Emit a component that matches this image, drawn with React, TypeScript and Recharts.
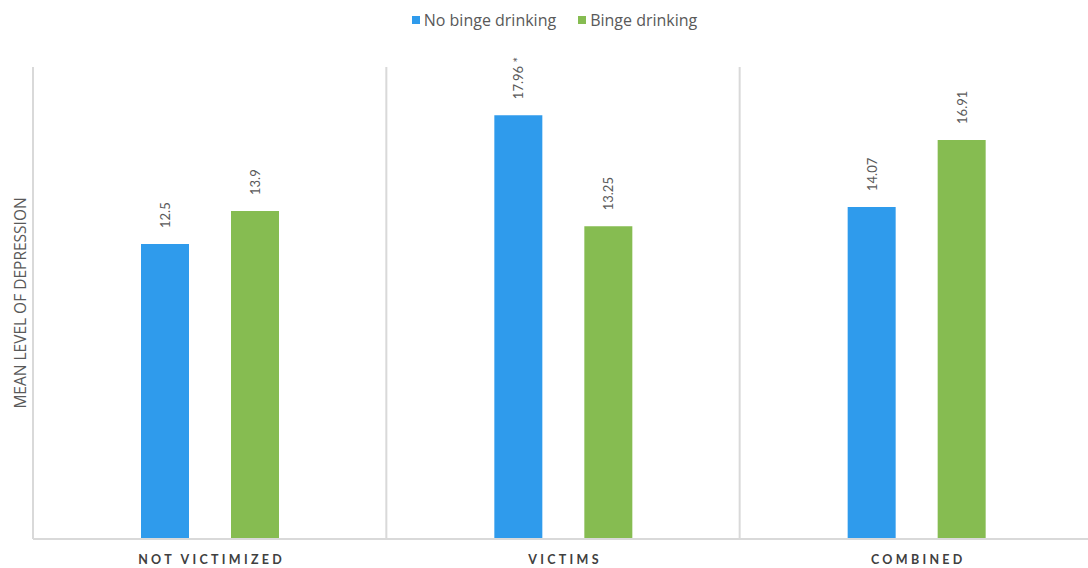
import React from 'react';
import { BarChart, Bar, XAxis, YAxis, CartesianGrid, Legend, LabelList } from 'recharts';

const categories = ['NOT VICTIMIZED', 'VICTIMS', 'COMBINED'];
const noBinge = [12.5, 17.96, 14.07];
const binge = [13.9, 13.25, 16.91];
const noBingeLabels = ['12.5', '17.96 *', '14.07'];
const bingeLabels = ['13.9', '13.25', '16.91'];
const seriesNames = ['No binge drinking', 'Binge drinking'];
const yTitle = 'MEAN LEVEL OF DEPRESSION';
const yDomain: [number, number] = [0, 20];

const COLORS = ['#2F9BEC', '#86BC51'];
const GRID = '#D9D9D9';
const TEXT = '#595959';
const FONT = 'Lato, "Open Sans", sans-serif';
const WIDE_FONT = '"Open Sans", Lato, sans-serif';

const data = categories.map((c, i) => ({
  category: c,
  noBinge: noBinge[i],
  binge: binge[i],
  noBingeLabel: noBingeLabels[i],
  bingeLabel: bingeLabels[i],
}));

const RotLabel = (props: any) => {
  const { x, y, width, value } = props;
  const cx = Number(x) + Number(width) / 2;
  const ty = Number(y) - 16;
  return (
    <text
      x={cx}
      y={ty}
      transform={`rotate(-90, ${cx}, ${ty})`}
      textAnchor="start"
      dominantBaseline="central"
      fill={TEXT}
      fontSize={13}
      fontFamily={FONT}
    >
      {value}
    </text>
  );
};

const XTick = (props: any) => {
  const { x, y, payload } = props;
  return (
    <text
      x={Number(x) + 2}
      y={Number(y) + 23}
      textAnchor="middle"
      fill="#404040"
      fontSize={12.5}
      fontWeight={700}
      letterSpacing={3.3}
      fontFamily={FONT}
    >
      {payload.value}
    </text>
  );
};

const LegendContent = () => (
  <div
    style={{
      display: 'flex',
      justifyContent: 'center',
      alignItems: 'center',
      paddingLeft: 9,
      fontFamily: WIDE_FONT,
      fontSize: 16,
      fontWeight: 500,
      color: TEXT,
      lineHeight: '20px',
    }}
  >
    {seriesNames.map((n, i) => (
      <span key={n} style={{ display: 'flex', alignItems: 'center', marginRight: i === 0 ? 22 : 0 }}>
        <span style={{ width: 8, height: 8, background: COLORS[i], marginRight: 4, display: 'inline-block' }} />
        {n}
      </span>
    ))}
  </div>
);

const vGen = (args: any) => {
  const off = args.offset;
  return [off.left + off.width / 3, off.left + (2 * off.width) / 3];
};

export default function App() {
  return (
    <div style={{ position: 'absolute', left: 0, top: 0, width: 1088, height: 568, overflow: 'hidden', background: '#fff' }}>
      <BarChart
        width={1100}
        height={568}
        data={data}
        margin={{ top: 67, right: 7, left: 0, bottom: 0 }}
        barGap={42}
        barSize={48}
      >
        <CartesianGrid horizontal={false} vertical verticalCoordinatesGenerator={vGen} stroke={GRID} strokeWidth={2} />
        <XAxis
          dataKey="category"
          height={29}
          tickLine={false}
          tickSize={0}
          axisLine={{ stroke: GRID, strokeWidth: 2 }}
          tick={<XTick />}
          interval={0}
        />
        <YAxis
          width={33}
          domain={yDomain}
          tick={false}
          tickLine={false}
          axisLine={{ stroke: GRID, strokeWidth: 2 }}
          label={{
            value: yTitle,
            angle: -90,
            position: 'center',
            dx: 4,
            style: { fill: TEXT, fontSize: 15.5, fontFamily: WIDE_FONT },
          }}
        />
        <Legend verticalAlign="middle" align="center" layout="horizontal" wrapperStyle={{ top: 10, left: 0, width: 1100 }} content={<LegendContent />} />
        <Bar dataKey="noBinge" name={seriesNames[0]} fill={COLORS[0]} isAnimationActive={false}>
          <LabelList dataKey="noBingeLabel" content={<RotLabel />} />
        </Bar>
        <Bar dataKey="binge" name={seriesNames[1]} fill={COLORS[1]} isAnimationActive={false}>
          <LabelList dataKey="bingeLabel" content={<RotLabel />} />
        </Bar>
      </BarChart>
    </div>
  );
}
